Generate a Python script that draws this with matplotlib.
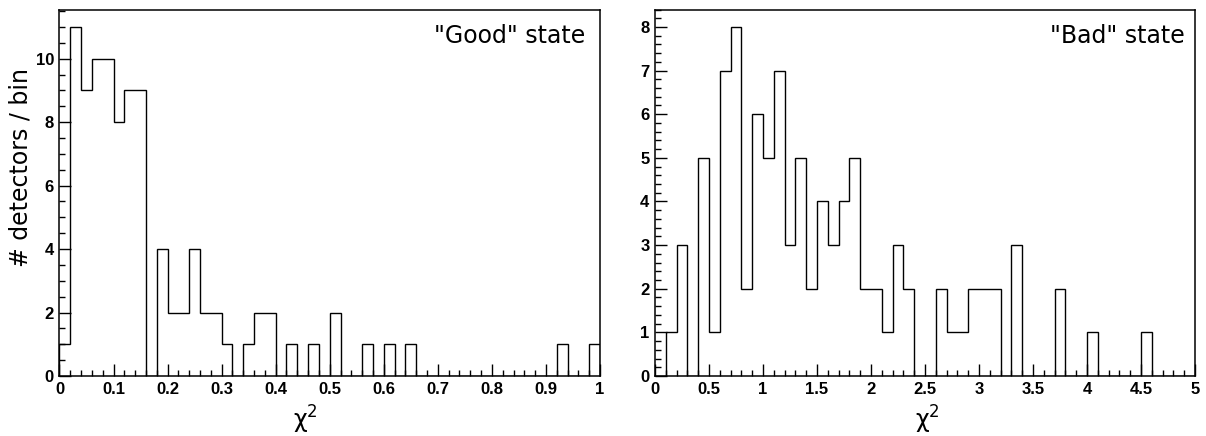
import matplotlib
matplotlib.use("Agg")
import matplotlib.pyplot as plt
import numpy as np
from matplotlib.ticker import MultipleLocator, FuncFormatter

# histogram contents, 50 bins each
good_lo, good_hi, good_nbins = 0.0, 1.0, 50
good_counts = [1, 11, 9, 10, 10, 8, 9, 9, 0, 4,
               2, 2, 4, 2, 2, 1, 0, 1, 2, 2,
               0, 1, 0, 1, 0, 2, 0, 0, 1, 0,
               1, 0, 1, 0, 0, 0, 0, 0, 0, 0,
               0, 0, 0, 0, 0, 0, 1, 0, 0, 1]

bad_lo, bad_hi, bad_nbins = 0.0, 5.0, 50
bad_counts = [0, 1, 3, 0, 5, 1, 7, 8, 2, 6,
              5, 7, 3, 5, 2, 4, 3, 4, 5, 2,
              2, 1, 3, 2, 0, 0, 2, 1, 1, 2,
              2, 2, 0, 3, 0, 0, 0, 2, 0, 0,
              1, 0, 0, 0, 0, 1, 0, 0, 0, 0]

panel_titles = ['"Good" state', '"Bad" state']
x_label = "χ$^2$"
y_label = "# detectors / bin"

TICK_FONT = {"family": "Liberation Sans", "weight": "bold", "size": 12}


def style_axis(ax, xmajor, xminor, ymajor, yminor):
    ax.xaxis.set_major_locator(MultipleLocator(xmajor))
    ax.xaxis.set_minor_locator(MultipleLocator(xminor))
    ax.yaxis.set_major_locator(MultipleLocator(ymajor))
    ax.yaxis.set_minor_locator(MultipleLocator(yminor))
    fmt = FuncFormatter(lambda v, p: f"{v:g}")
    ax.xaxis.set_major_formatter(fmt)
    ax.yaxis.set_major_formatter(fmt)
    ax.tick_params(which="both", direction="in", top=False, right=False,
                   width=1.0, color="black")
    ax.tick_params(which="major", length=8.5, pad=4)
    ax.tick_params(which="minor", length=4.3)
    for lab in ax.get_xticklabels() + ax.get_yticklabels():
        lab.set_fontfamily(TICK_FONT["family"])
        lab.set_fontweight(TICK_FONT["weight"])
        lab.set_fontsize(TICK_FONT["size"])
    for sp in ax.spines.values():
        sp.set_linewidth(1.1)


fig = plt.figure(figsize=(12.06, 4.36), dpi=100)
ax1 = fig.add_axes([0.0493, 0.1376, 0.4482, 0.8406])
ax2 = fig.add_axes([0.5431, 0.1376, 0.4478, 0.8406])

edges_good = np.linspace(good_lo, good_hi, good_nbins + 1)
edges_bad = np.linspace(bad_lo, bad_hi, bad_nbins + 1)

ax1.stairs(good_counts, edges_good, color="black", linewidth=1.0)
ax2.stairs(bad_counts, edges_bad, color="black", linewidth=1.0)

ax1.set_xlim(good_lo, good_hi)
ax1.set_ylim(0, max(good_counts) * 1.05)
ax2.set_xlim(bad_lo, bad_hi)
ax2.set_ylim(0, max(bad_counts) * 1.05)

style_axis(ax1, 0.1, 0.02, 2, 0.5)
style_axis(ax2, 0.5, 0.1, 1, 0.2)

ax1.text(0.972, 0.928, panel_titles[0], transform=ax1.transAxes,
         ha="right", va="center", fontsize=17)
ax2.text(0.981, 0.928, panel_titles[1], transform=ax2.transAxes,
         ha="right", va="center", fontsize=17)

ax1.set_xlabel(x_label, fontsize=17)
ax2.set_xlabel(x_label, fontsize=17)
ax1.xaxis.set_label_coords(0.455, -0.075)
ax2.xaxis.set_label_coords(0.505, -0.075)

# y title sits in the upper part of the left side, ends a bit below the top
fig.text(0.017, 0.387, y_label, rotation=90, ha="center", va="bottom",
         fontsize=17)

fig.savefig("out.png", dpi=100)
